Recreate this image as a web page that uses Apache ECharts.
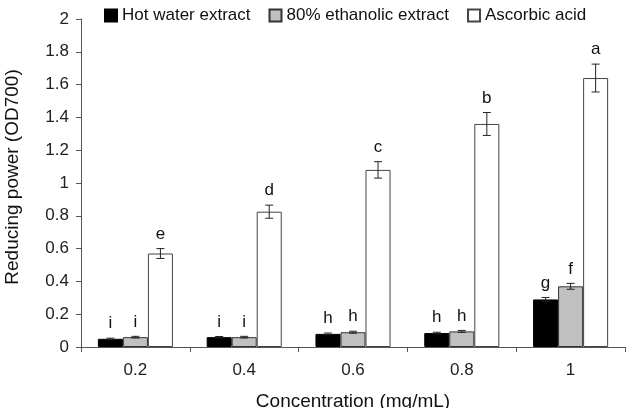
<!DOCTYPE html>
<html>
<head>
<meta charset="utf-8">
<script src="https://cdn.jsdelivr.net/npm/echarts@6/dist/echarts.min.js"></script>
<style>
  html, body { margin: 0; padding: 0; background: #fff; }
  #chart { width: 632px; height: 408px; }
</style>
</head>
<body>
<div id="chart"></div>
<script>
const categories = ["0.2", "0.4", "0.6", "0.8", "1"];
const hotWater = [0.05, 0.06, 0.08, 0.085, 0.29];
const ethanolic = [0.06, 0.06, 0.09, 0.095, 0.37];
const ascorbic = [0.57, 0.825, 1.08, 1.36, 1.64];
const hotErr = [0.004, 0.004, 0.005, 0.005, 0.012];
const ethErr = [0.005, 0.005, 0.006, 0.006, 0.018];
const ascErr = [0.03, 0.04, 0.05, 0.07, 0.085];
const hotLetters = ["i", "i", "h", "h", "g"];
const ethLetters = ["i", "i", "h", "h", "f"];
const ascLetters = ["e", "d", "c", "b", "a"];

const gapRatio = 0.31;
const fontFamily = "Liberation Sans, Arial, sans-serif";

function errorSeries(values, errs, letters, slot) {
  return {
    type: "custom",
    silent: true,
    z: 5,
    data: values.map((v, i) => [i, v, errs[i], letters[i]]),
    encode: { x: 0, y: 1 },
    renderItem: (params, api) => {
      const idx = api.value(0);
      const val = api.value(1);
      const err = api.value(2);
      const band = api.size([1, 0])[0];
      const barW = band * (1 - gapRatio) / 3;
      const x = api.coord([idx, val])[0] + slot * barW;
      const top = api.coord([idx, val + err])[1];
      const bottom = api.coord([idx, val - err])[1];
      const cap = 4;
      const style = { stroke: "#222", lineWidth: 1 };
      return {
        type: "group",
        children: [
          { type: "line", shape: { x1: x, y1: top, x2: x, y2: bottom }, style },
          { type: "line", shape: { x1: x - cap, y1: top, x2: x + cap, y2: top }, style },
          { type: "line", shape: { x1: x - cap, y1: bottom, x2: x + cap, y2: bottom }, style },
          {
            type: "text",
            style: {
              x: x,
              y: top - 6,
              text: letters[idx],
              textAlign: "center",
              textVerticalAlign: "bottom",
              fontSize: 17,
              fontFamily,
              fill: "#111"
            }
          }
        ]
      };
    }
  };
}

const chart = echarts.init(document.getElementById("chart"));
chart.setOption({
  animation: false,
  textStyle: { fontFamily },
  legend: {
    top: 2,
    left: 99,
    icon: "rect",
    itemWidth: 12,
    itemHeight: 12,
    itemGap: 18,
    textStyle: { fontSize: 17, color: "#111", fontFamily },
    data: ["Hot water extract", "80% ethanolic extract", "Ascorbic acid"]
  },
  grid: { left: 81, right: 7, top: 19, bottom: 61, outerBoundsMode: "none", containLabel: false },
  xAxis: {
    type: "category",
    data: categories,
    name: "Concentration (mg/mL)",
    nameLocation: "middle",
    nameGap: 45,
    nameTextStyle: { fontSize: 19, color: "#111" },
    axisLine: { lineStyle: { color: "#555" } },
    axisTick: { show: true, alignWithLabel: false, length: 5, inside: false, lineStyle: { color: "#555" } },
    axisLabel: { fontSize: 17, color: "#222", margin: 15 }
  },
  yAxis: {
    type: "value",
    min: 0,
    max: 2,
    interval: 0.2,
    name: "Reducing power (OD700)",
    nameLocation: "middle",
    nameGap: 59,
    nameTextStyle: { fontSize: 19, color: "#111", padding: [0, 0, 0, 12] },
    axisLine: { show: true, lineStyle: { color: "#555" } },
    axisTick: { show: true, length: 5, lineStyle: { color: "#555" } },
    axisLabel: { fontSize: 17, color: "#222", margin: 12, formatter: v => String(+v.toFixed(1)) },
    splitLine: { show: false }
  },
  series: [
    {
      name: "Hot water extract",
      type: "bar",
      data: hotWater,
      barGap: "0%",
      barCategoryGap: (gapRatio * 100) + "%",
      itemStyle: { color: "#000", borderColor: "#000", borderWidth: 1 }
    },
    {
      name: "80% ethanolic extract",
      type: "bar",
      data: ethanolic,
      barGap: "0%",
      barCategoryGap: (gapRatio * 100) + "%",
      itemStyle: { color: "#c0c0c0", borderColor: "#333", borderWidth: 1 }
    },
    {
      name: "Ascorbic acid",
      type: "bar",
      data: ascorbic,
      barGap: "0%",
      barCategoryGap: (gapRatio * 100) + "%",
      itemStyle: { color: "#fff", borderColor: "#444", borderWidth: 1 }
    },
    errorSeries(hotWater, hotErr, hotLetters, -1),
    errorSeries(ethanolic, ethErr, ethLetters, 0),
    errorSeries(ascorbic, ascErr, ascLetters, 1)
  ]
});
</script>
</body>
</html>
